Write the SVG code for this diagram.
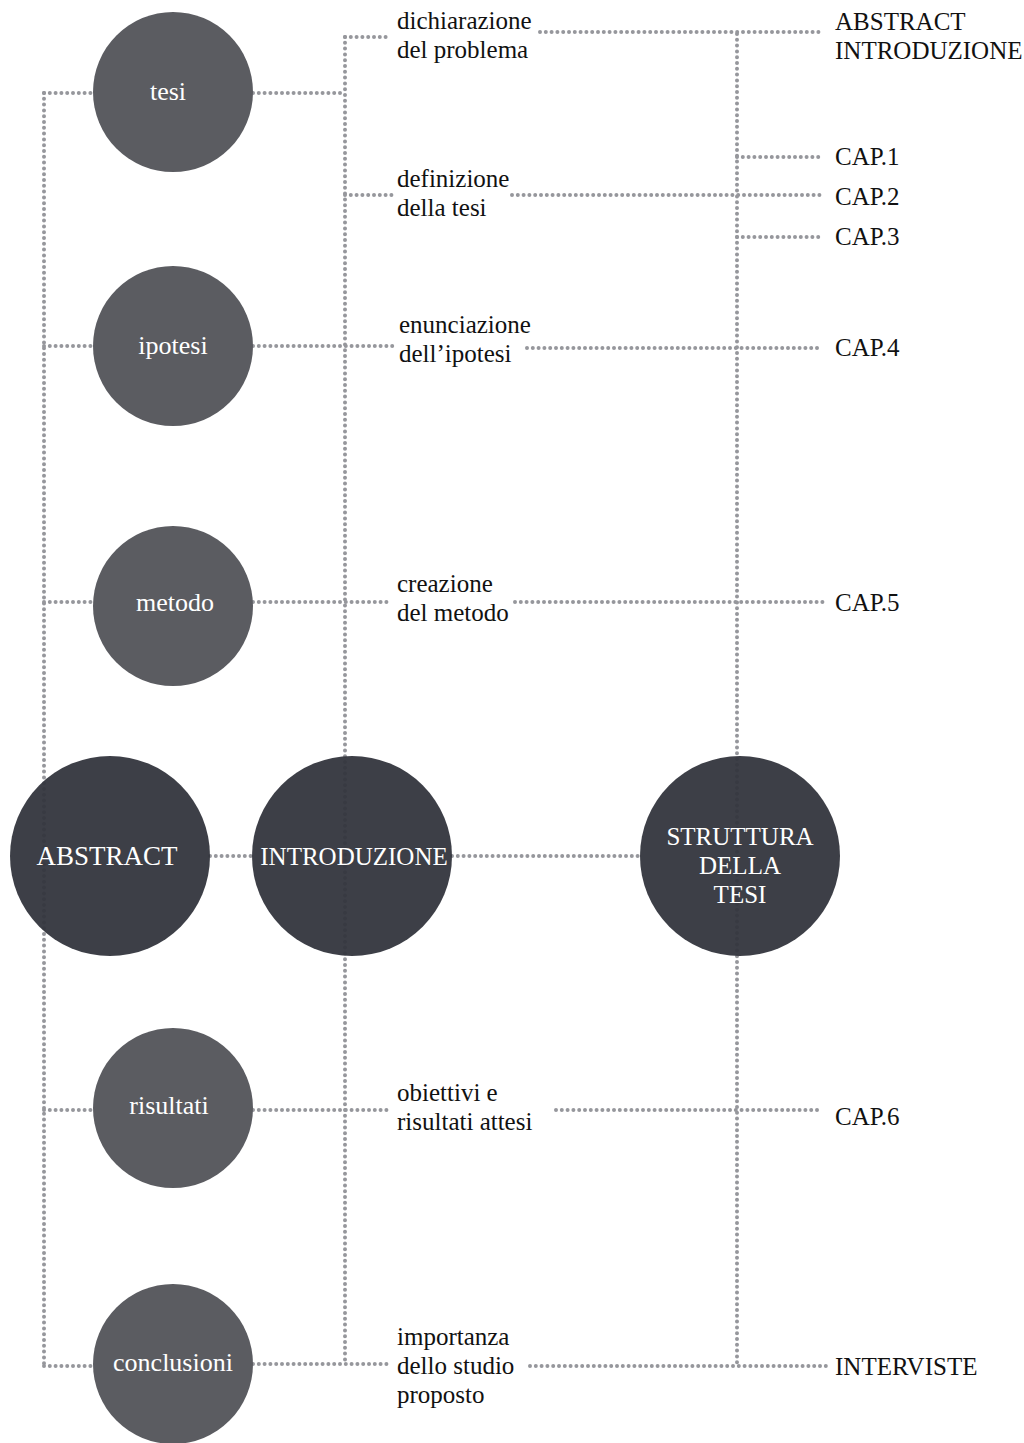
<svg xmlns="http://www.w3.org/2000/svg" width="1024" height="1443" viewBox="0 0 1024 1443">
<style>
.dot{fill:none;stroke:#96979c;stroke-width:4;stroke-linecap:round;stroke-dasharray:0 5.8}
.g{fill:#5b5c61}
.d{fill:#33353d;fill-opacity:0.95}
.ct{font-family:"Liberation Serif","Times New Roman",serif;font-size:26px;fill:#ffffff;text-anchor:middle}
.lb{font-family:"Liberation Serif","Times New Roman",serif;font-size:25px;fill:#111111}
</style>
<rect width="1024" height="1443" fill="#ffffff"/>
<g id="connectors">
<path class="dot" d="M44 93 V1366"/>
<path class="dot" d="M345 37 V1364"/>
<path class="dot" d="M737 34 V1366"/>
<path class="dot" d="M44 93 H93 M253 93 H345"/>
<path class="dot" d="M345 37 H388"/>
<path class="dot" d="M540 32 H822"/>
<path class="dot" d="M345 195 H392 M512 195 H822"/>
<path class="dot" d="M737 157 H820"/>
<path class="dot" d="M737 237 H820"/>
<path class="dot" d="M44 346 H93 M253 346 H395 M527 348 H822"/>
<path class="dot" d="M44 602 H93 M253 602 H392 M515 602 H828"/>
<path class="dot" d="M210 856 H252 M452 856 H640"/>
<path class="dot" d="M44 1110 H93 M253 1110 H392 M556 1110 H822"/>
<path class="dot" d="M44 1366 H93 M253 1364 H392 M530 1366 H830"/>
</g>
<g id="tesi"><circle class="g" cx="173" cy="92" r="80"/><text class="ct" x="168" y="100">tesi</text></g>
<g id="ipotesi"><circle class="g" cx="173" cy="346" r="80"/><text class="ct" x="173" y="354">ipotesi</text></g>
<g id="metodo"><circle class="g" cx="173" cy="606" r="80"/><text class="ct" x="175" y="611">metodo</text></g>
<g id="risultati"><circle class="g" cx="173" cy="1108" r="80"/><text class="ct" x="169" y="1114">risultati</text></g>
<g id="conclusioni"><circle class="g" cx="173" cy="1364" r="80"/><text class="ct" x="173" y="1371">conclusioni</text></g>
<g id="abstract"><circle class="d" cx="110" cy="856" r="100"/><text class="ct" x="107" y="865" style="font-size:27px">ABSTRACT</text></g>
<g id="introduzione"><circle class="d" cx="352" cy="856" r="100"/><text class="ct" x="354" y="865" style="font-size:25px">INTRODUZIONE</text></g>
<g id="struttura"><circle class="d" cx="740" cy="856" r="100"/><text class="ct" x="740" y="845" style="font-size:25px">STRUTTURA</text><text class="ct" x="740" y="874" style="font-size:25px">DELLA</text><text class="ct" x="740" y="903" style="font-size:25px">TESI</text></g>
<g id="lbl-dichiarazione"><text class="lb" x="397" y="29">dichiarazione</text><text class="lb" x="397" y="58">del problema</text></g>
<g id="lbl-definizione"><text class="lb" x="397" y="187">definizione</text><text class="lb" x="397" y="216">della tesi</text></g>
<g id="lbl-enunciazione"><text class="lb" x="399" y="333">enunciazione</text><text class="lb" x="399" y="362">dell’ipotesi</text></g>
<g id="lbl-creazione"><text class="lb" x="397" y="592">creazione</text><text class="lb" x="397" y="621">del metodo</text></g>
<g id="lbl-obiettivi"><text class="lb" x="397" y="1101">obiettivi e</text><text class="lb" x="397" y="1130">risultati attesi</text></g>
<g id="lbl-importanza"><text class="lb" x="397" y="1345">importanza</text><text class="lb" x="397" y="1374">dello studio</text><text class="lb" x="397" y="1403">proposto</text></g>
<g id="lbl-abstract"><text class="lb" x="835" y="30">ABSTRACT</text><text class="lb" x="835" y="59">INTRODUZIONE</text></g>
<g id="lbl-cap1"><text class="lb" x="835" y="165">CAP.1</text></g>
<g id="lbl-cap2"><text class="lb" x="835" y="205">CAP.2</text></g>
<g id="lbl-cap3"><text class="lb" x="835" y="245">CAP.3</text></g>
<g id="lbl-cap4"><text class="lb" x="835" y="356">CAP.4</text></g>
<g id="lbl-cap5"><text class="lb" x="835" y="611">CAP.5</text></g>
<g id="lbl-cap6"><text class="lb" x="835" y="1125">CAP.6</text></g>
<g id="lbl-interviste"><text class="lb" x="835" y="1375">INTERVISTE</text></g>
</svg>
